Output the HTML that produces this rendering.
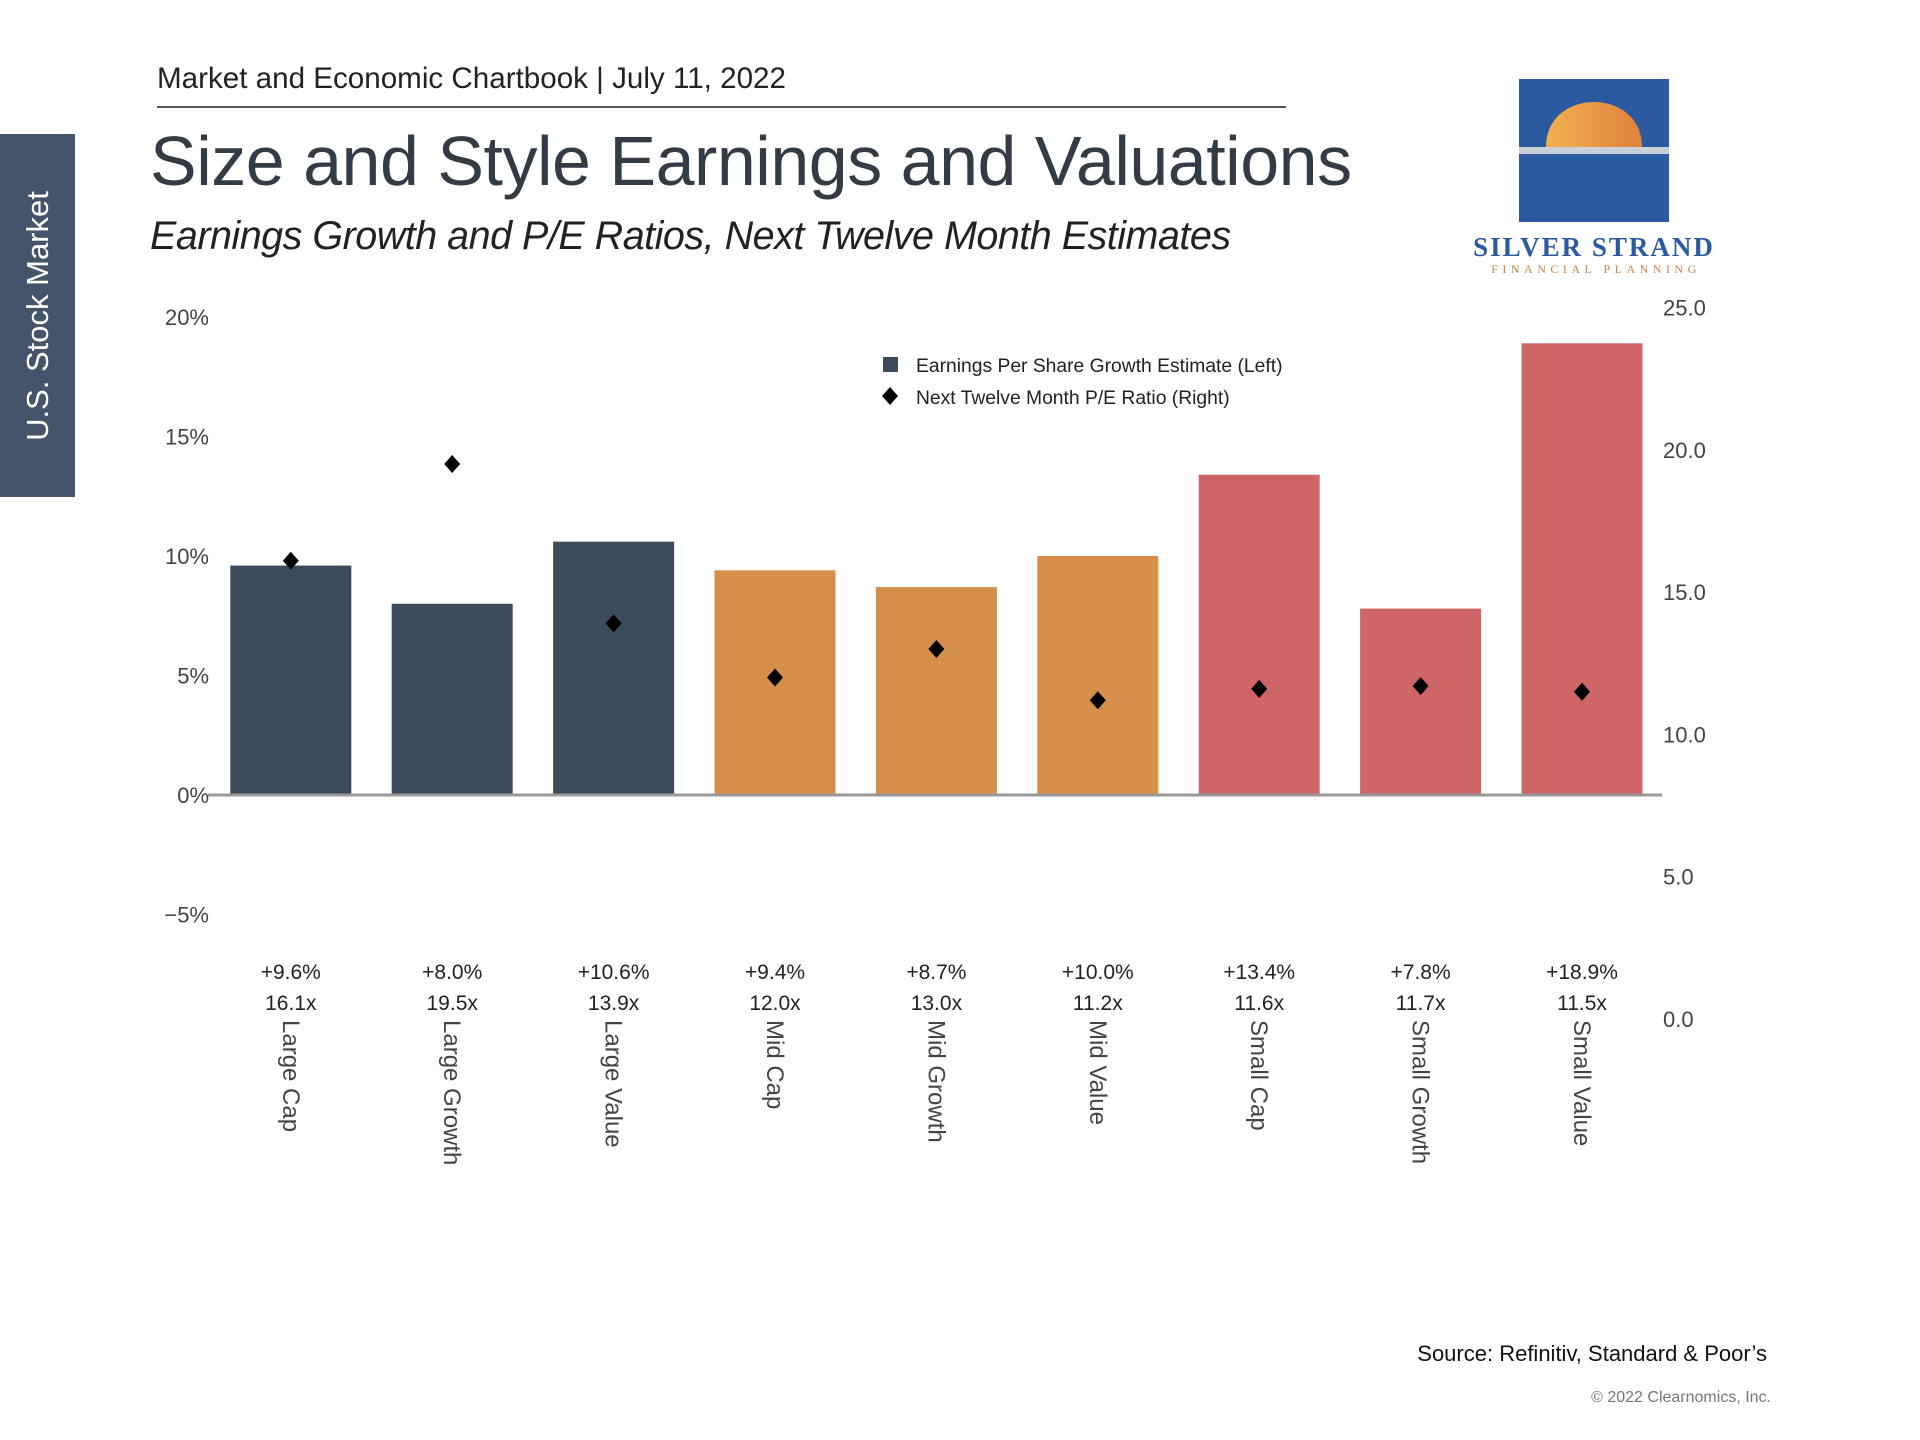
<!DOCTYPE html>
<html><head><meta charset="utf-8"><style>
body{margin:0;width:1920px;height:1440px;background:#fff;font-family:"Liberation Sans",sans-serif;position:relative;overflow:hidden}
.a{position:absolute;white-space:nowrap}
</style></head><body>
<div class="a" style="left:157px;top:62px;font-size:29.6px;color:#222">Market and Economic Chartbook | July 11, 2022</div>
<div class="a" style="left:157px;top:106px;width:1129px;height:2px;background:#555"></div>
<div class="a" style="left:150px;top:121px;font-size:70px;color:#333b44;letter-spacing:-0.5px">Size and Style Earnings and Valuations</div>
<div class="a" style="left:150px;top:214px;font-size:39.5px;font-style:italic;color:#222;letter-spacing:-0.5px">Earnings Growth and P/E Ratios, Next Twelve Month Estimates</div>
<div class="a" style="left:0;top:134px;width:75px;height:363px;background:#44546a"></div>
<div class="a" style="left:38px;top:316px;transform:translate(-50%,-50%) rotate(-90deg);color:#fff;font-size:31px">U.S. Stock Market</div>
<svg class="a" style="left:1519px;top:79px" width="150" height="143">
<defs><linearGradient id="sun" x1="0" x2="1"><stop offset="0" stop-color="#f0b24f"/><stop offset="1" stop-color="#e0803c"/></linearGradient></defs>
<rect width="150" height="143" fill="#2b5aa0"/>
<path d="M27 68 C27 8 123 8 123 68 Z" fill="url(#sun)"/>
<rect y="68" width="150" height="7" fill="#c8d0d8"/>
</svg>
<div class="a" style="left:1594px;top:232px;transform:translateX(-50%);font-family:'Liberation Serif',serif;font-weight:bold;font-size:27px;color:#2b5aa0;letter-spacing:2px">SILVER STRAND</div>
<div class="a" style="left:1596px;top:262px;transform:translateX(-50%);font-family:'Liberation Serif',serif;font-size:12px;color:#c8844a;letter-spacing:4.5px">FINANCIAL PLANNING</div>
<svg id="chart" class="a" style="left:0;top:0" width="1920" height="1440"></svg>
<div class="a" style="right:153px;top:1341px;font-size:22px;color:#111">Source: Refinitiv, Standard &amp; Poor’s</div>
<div class="a" style="right:149px;top:1389px;font-size:16px;color:#777">© 2022 Clearnomics, Inc.</div>
<script>
const categories=["Large Cap","Large Growth","Large Value","Mid Cap","Mid Growth","Mid Value","Small Cap","Small Growth","Small Value"];
const epsGrowth=[9.6,8.0,10.6,9.4,8.7,10.0,13.4,7.8,18.9];
const peRatio=[16.1,19.5,13.9,12.0,13.0,11.2,11.6,11.7,11.5];
const barColors=["#3c4b5a","#3c4b5a","#3c4b5a","#d58f4b","#d58f4b","#d58f4b","#cf6566","#cf6566","#cf6566"];
const leftTicks=[20,15,10,5,0,-5];
const leftTickLabels=["20%","15%","10%","5%","0%","\u22125%"];
const rightTicks=[25,20,15,10,5,0];
const epsLabels=["+9.6%","+8.0%","+10.6%","+9.4%","+8.7%","+10.0%","+13.4%","+7.8%","+18.9%"];
const peLabels=["16.1x","19.5x","13.9x","12.0x","13.0x","11.2x","11.6x","11.7x","11.5x"];
const NS="http://www.w3.org/2000/svg";
const svg=document.getElementById('chart');
const yL=v=>795-v*23.9;
const yR=v=>1019-v*28.46;
const xC=i=>290.8+i*161.4;
const bw=121;
function mk(t,a,txt){const e=document.createElementNS(NS,t);for(const k in a)e.setAttribute(k,a[k]);if(txt!==undefined)e.textContent=txt;svg.appendChild(e);return e;}
leftTicks.forEach((v,i)=>{const t=mk('text',{x:209,y:yL(v)+8,'text-anchor':'end','font-size':22,fill:'#444','font-family':'Liberation Sans'},leftTickLabels[i]);

});
rightTicks.forEach(v=>{const t=mk('text',{x:1663,y:yR(v)+8,'font-size':22,fill:'#444','font-family':'Liberation Sans'},v.toFixed(1));

});
epsGrowth.forEach((v,i)=>{const y=yL(Math.max(v,0)),h=Math.abs(yL(v)-yL(0));
const r=mk('rect',{x:xC(i)-bw/2,y:y,width:bw,height:h,fill:barColors[i]});

});
const ax=mk('line',{x1:208,x2:1662,y1:yL(0),y2:yL(0),stroke:'#999','stroke-width':3});


peRatio.forEach((v,i)=>{const x=xC(i),y=yR(v);
const d=mk('polygon',{points:`${x},${y-9} ${x+8},${y} ${x},${y+9} ${x-8},${y}`,fill:'#000'});

});
categories.forEach((c,i)=>{const x=xC(i);
const a=mk('text',{x:x,y:979,'text-anchor':'middle','font-size':21,fill:'#222','font-family':'Liberation Sans'},epsLabels[i]);


const b=mk('text',{x:x,y:1010,'text-anchor':'middle','font-size':21,fill:'#222','font-family':'Liberation Sans'},peLabels[i]);


const c2=mk('text',{x:0,y:0,'font-size':24,fill:'#444','font-family':'Liberation Sans',transform:`translate(${x-8},1020) rotate(90)`},c);

});
const l1=mk('rect',{x:883,y:357,width:15,height:15,fill:'#3c4b5a'});


const lt1=mk('text',{x:916,y:372,'font-size':19.3,fill:'#222','font-family':'Liberation Sans'},'Earnings Per Share Growth Estimate (Left)');


const l2=mk('polygon',{points:'890,387 898,396 890,405 882,396',fill:'#000'});


const lt2=mk('text',{x:916,y:404,'font-size':19.3,fill:'#222','font-family':'Liberation Sans'},'Next Twelve Month P/E Ratio (Right)');


</script>
</body></html>
